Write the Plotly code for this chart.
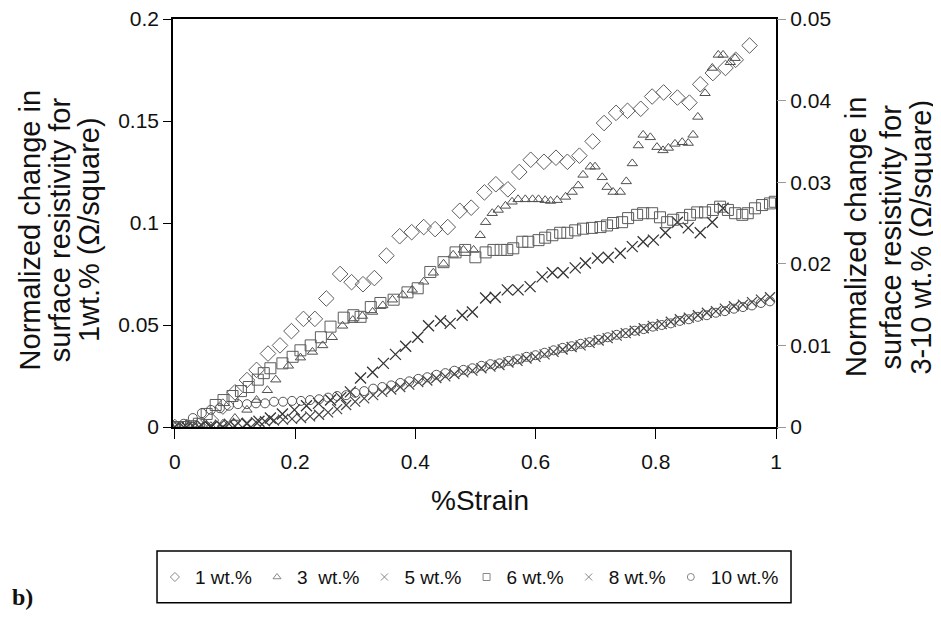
import plotly.graph_objects as go

# ---------------- data ----------------
strain_1 = [0.00, 0.02, 0.04, 0.06, 0.08, 0.10, 0.12, 0.136, 0.155, 0.175, 0.194, 0.214, 0.233, 0.252,
            0.275, 0.294, 0.313, 0.332, 0.352, 0.374, 0.394, 0.414, 0.433, 0.454, 0.474, 0.493, 0.515,
            0.534, 0.554, 0.573, 0.592, 0.614, 0.634, 0.653, 0.673, 0.695, 0.714, 0.734, 0.753, 0.775,
            0.794, 0.813, 0.836, 0.856, 0.874, 0.895, 0.916, 0.933, 0.956]
res_1 = [0.000, 0.000, 0.0005, 0.0034, 0.010, 0.017, 0.023, 0.028, 0.036, 0.040, 0.047, 0.053, 0.053, 0.063,
         0.075, 0.071, 0.070, 0.073, 0.084, 0.0935, 0.0955, 0.098, 0.097, 0.098, 0.106, 0.1075, 0.115,
         0.119, 0.1165, 0.125, 0.131, 0.130, 0.132, 0.130, 0.133, 0.140, 0.149, 0.154, 0.155, 0.156,
         0.162, 0.164, 0.1615, 0.159, 0.168, 0.1735, 0.176, 0.180, 0.187]

strain_3 = [0.000, 0.020, 0.040, 0.060, 0.080, 0.100, 0.120, 0.136, 0.154, 0.168, 0.189, 0.209, 0.229, 0.246,
            0.262, 0.279, 0.296, 0.312, 0.329, 0.346, 0.362, 0.379, 0.395, 0.414, 0.430, 0.447, 0.463,
            0.480, 0.497, 0.508, 0.517, 0.528, 0.538, 0.550, 0.561, 0.571, 0.583, 0.595, 0.605, 0.616,
            0.625, 0.636, 0.650, 0.661, 0.671, 0.679, 0.691, 0.699, 0.711, 0.719, 0.729, 0.741, 0.751,
            0.761, 0.771, 0.779, 0.791, 0.802, 0.812, 0.821, 0.832, 0.844, 0.854, 0.862, 0.870, 0.882,
            0.894, 0.904, 0.912, 0.924, 0.932]
res_3 = [0.0000, 0.0000, 0.0000, 0.0001, 0.0004, 0.0011, 0.0021, 0.0033, 0.0045, 0.0058, 0.0075, 0.0085,
         0.0092, 0.0100, 0.0110, 0.0124, 0.0131, 0.0136, 0.0141, 0.0149, 0.0156, 0.0162, 0.0168, 0.0178,
         0.0189, 0.0200, 0.0211, 0.0217, 0.0217, 0.0235, 0.0251, 0.0262, 0.0266, 0.0271, 0.0276, 0.0279,
         0.0279, 0.0279, 0.0279, 0.0278, 0.0277, 0.0278, 0.0282, 0.0288, 0.0296, 0.0309, 0.0319, 0.0319,
         0.0306, 0.0294, 0.0288, 0.0288, 0.0301, 0.0323, 0.0345, 0.0358, 0.0355, 0.0343, 0.0339, 0.0342,
         0.0347, 0.0349, 0.0348, 0.0358, 0.0380, 0.0409, 0.0440, 0.0456, 0.0456, 0.0447, 0.0452]

strain_5 = [0.000, 0.020, 0.040, 0.060, 0.080, 0.100, 0.120, 0.140, 0.159, 0.179, 0.199, 0.219, 0.239,
            0.259, 0.276, 0.292, 0.309, 0.329, 0.347, 0.367, 0.384, 0.404, 0.422, 0.442, 0.458, 0.478,
            0.495, 0.517, 0.533, 0.553, 0.571, 0.591, 0.611, 0.628, 0.646, 0.666, 0.683, 0.703, 0.721,
            0.741, 0.761, 0.779, 0.796, 0.816, 0.836, 0.854, 0.874, 0.894, 0.912]
res_5 = [0.0000, 0.0000, 0.0000, 0.0000, 0.0000, 0.0001, 0.0004, 0.0007, 0.0011, 0.0016, 0.0021, 0.0026,
         0.0029, 0.0033, 0.0036, 0.0043, 0.0060, 0.0067, 0.0078, 0.0089, 0.0099, 0.0110, 0.0124, 0.0130,
         0.0127, 0.0137, 0.0141, 0.0158, 0.0159, 0.0168, 0.0168, 0.0172, 0.0184, 0.0189, 0.0189, 0.0195,
         0.0201, 0.0207, 0.0208, 0.0213, 0.0221, 0.0227, 0.0229, 0.0238, 0.0251, 0.0244, 0.0238, 0.0251,
         0.0268]

strain_6 = [0.000, 0.013, 0.027, 0.040, 0.053, 0.068, 0.081, 0.096, 0.110, 0.123, 0.138, 0.148, 0.159,
            0.179, 0.196, 0.209, 0.226, 0.243, 0.259, 0.281, 0.297, 0.309, 0.326, 0.342, 0.364, 0.387,
            0.404, 0.425, 0.447, 0.467, 0.483, 0.500, 0.517, 0.530, 0.542, 0.553, 0.563, 0.578, 0.588,
            0.605, 0.616, 0.628, 0.641, 0.653, 0.666, 0.679, 0.694, 0.708, 0.719, 0.729, 0.744, 0.754,
            0.769, 0.779, 0.794, 0.807, 0.819, 0.829, 0.844, 0.857, 0.869, 0.882, 0.895, 0.907, 0.920,
            0.932, 0.944, 0.953, 0.965, 0.977, 0.990, 0.998]
res_6 = [0.0000, 0.0000, 0.0001, 0.0004, 0.0016, 0.0027, 0.0033, 0.0038, 0.0044, 0.0049, 0.0058, 0.0066,
         0.0072, 0.0078, 0.0086, 0.0094, 0.0100, 0.0110, 0.0123, 0.0134, 0.0137, 0.0135, 0.0147, 0.0152,
         0.0156, 0.0165, 0.0170, 0.0190, 0.0202, 0.0214, 0.0217, 0.0208, 0.0214, 0.0217, 0.0217, 0.0217,
         0.0219, 0.0227, 0.0227, 0.0229, 0.0232, 0.0235, 0.0238, 0.0238, 0.0241, 0.0243, 0.0244, 0.0245,
         0.0247, 0.0250, 0.0251, 0.0256, 0.0260, 0.0262, 0.0262, 0.0257, 0.0251, 0.0254, 0.0256, 0.0260,
         0.0263, 0.0263, 0.0266, 0.0270, 0.0266, 0.0262, 0.0260, 0.0262, 0.0268, 0.0272, 0.0274, 0.0276]

strain_8_10 = [0.000, 0.015, 0.030, 0.045, 0.060, 0.075, 0.090, 0.105, 0.120, 0.135, 0.150, 0.165, 0.180,
               0.195, 0.210, 0.225, 0.240, 0.255, 0.270, 0.285, 0.300, 0.315, 0.330, 0.345, 0.360, 0.375,
               0.390, 0.405, 0.420, 0.435, 0.450, 0.465, 0.480, 0.495, 0.510, 0.525, 0.540, 0.555, 0.570,
               0.585, 0.600, 0.615, 0.630, 0.645, 0.660, 0.675, 0.690, 0.705, 0.720, 0.735, 0.750, 0.765,
               0.780, 0.795, 0.810, 0.825, 0.840, 0.855, 0.870, 0.885, 0.900, 0.915, 0.930, 0.945, 0.960,
               0.975, 0.990]
res_8 = [0.0000, 0.0000, 0.0001, 0.0002, 0.0002, 0.0003, 0.0004, 0.0005, 0.0005, 0.0006, 0.0007, 0.0008,
         0.0009, 0.0010, 0.0011, 0.0013, 0.0015, 0.0018, 0.0022, 0.0027, 0.0031, 0.0035, 0.0039, 0.0043,
         0.0046, 0.0049, 0.0052, 0.0055, 0.0057, 0.0060, 0.0062, 0.0065, 0.0067, 0.0069, 0.0072, 0.0074,
         0.0076, 0.0079, 0.0081, 0.0084, 0.0086, 0.0089, 0.0092, 0.0095, 0.0098, 0.0100, 0.0103, 0.0106,
         0.0109, 0.0112, 0.0115, 0.0118, 0.0121, 0.0124, 0.0126, 0.0129, 0.0132, 0.0134, 0.0137, 0.0140,
         0.0142, 0.0145, 0.0148, 0.0150, 0.0153, 0.0156, 0.0159]
res_10 = [0.0000, 0.0004, 0.0011, 0.0017, 0.0021, 0.0023, 0.0026, 0.0028, 0.0028, 0.0029, 0.0029, 0.0031,
          0.0031, 0.0032, 0.0032, 0.0033, 0.0034, 0.0036, 0.0038, 0.0039, 0.0042, 0.0044, 0.0047, 0.0049,
          0.0051, 0.0054, 0.0056, 0.0059, 0.0061, 0.0064, 0.0066, 0.0069, 0.0070, 0.0072, 0.0075, 0.0077,
          0.0078, 0.0081, 0.0083, 0.0086, 0.0088, 0.0091, 0.0094, 0.0097, 0.0099, 0.0102, 0.0104, 0.0107,
          0.0110, 0.0113, 0.0115, 0.0118, 0.0120, 0.0123, 0.0125, 0.0127, 0.0130, 0.0132, 0.0135, 0.0137,
          0.0140, 0.0142, 0.0145, 0.0147, 0.0149, 0.0152, 0.0154]

legend_labels = ["1 wt.%", "3  wt.%", "5 wt.%", "6 wt.%", "8 wt.%", "10 wt.%"]
x_ticks = [0, 0.2, 0.4, 0.6, 0.8, 1]
y1_ticks = [0, 0.05, 0.1, 0.15, 0.2]
y2_ticks = [0, 0.01, 0.02, 0.03, 0.04, 0.05]
left_title = ["Normalized change in", "surface resistivity for", "1wt.% (Ω/square)"]
right_title = ["Normalized change in", "surface resistivity for", "3-10 wt.% (Ω/square)"]

FONT = "Liberation Sans, Arial, sans-serif"
TXT = "#111111"

fig = go.Figure()

series = [
    (strain_1, res_1, "y", dict(symbol="diamond-open", size=12, color="#5c5c5c", line=dict(width=1))),
    (strain_3, res_3, "y2", dict(symbol="triangle-up-open", size=9, color="#505050", line=dict(width=1))),
    (strain_5, res_5, "y2", dict(symbol="x-thin-open", size=11, color="#333333", line=dict(width=1.3))),
    (strain_6, res_6, "y2", dict(symbol="square-open", size=11, color="#5c5c5c", line=dict(width=1))),
    (strain_8_10, res_8, "y2", dict(symbol="x-thin-open", size=10, color="#444444", line=dict(width=1.2))),
    (strain_8_10, res_10, "y2", dict(symbol="circle-open", size=9, color="#555555", line=dict(width=1))),
]
for (xs, ys, ax, mk), name in zip(series, legend_labels):
    fig.add_trace(go.Scatter(x=xs, y=ys, yaxis=ax, mode="markers", marker=mk,
                             name=name, showlegend=False))

# legend entries with small symbols, as in the original
leg_syms = ["diamond-open", "triangle-up-open", "x-thin-open", "square-open", "x-thin-open", "circle-open"]
for s, name in zip(leg_syms, legend_labels):
    fig.add_trace(go.Scatter(x=[None], y=[None], mode="markers", name=name,
                             marker=dict(symbol=s, size=7, color="#888888", line=dict(width=1))))

fig.update_layout(
    width=933, height=610,
    margin=dict(l=165, r=165, t=11, b=191),
    paper_bgcolor="white", plot_bgcolor="white",
    showlegend=True,
    legend=dict(orientation="h", x=-0.030, y=-0.368, xanchor="left", yanchor="middle",
                bgcolor="rgba(0,0,0,0)", borderwidth=0,
                font=dict(family=FONT, size=19, color=TXT),
                itemwidth=30, tracegroupgap=0),
    xaxis=dict(range=[-0.003, 1.0], tickvals=x_ticks, ticktext=["0", "0.2", "0.4", "0.6", "0.8", "1"],
               ticks="outside", ticklen=10, tickwidth=1.2, tickcolor="black",
               showline=True, linecolor="black", linewidth=1.5, mirror=True,
               showgrid=False, zeroline=False, automargin=False, ticklabelstandoff=5,
               ticklabeloverflow="allow",
               tickfont=dict(family=FONT, size=21, color=TXT)),
    yaxis=dict(range=[0, 0.2], tickvals=y1_ticks, ticktext=["0", "0.05", "0.1", "0.15", "0.2"],
               ticks="outside", ticklen=8, tickwidth=1.2, tickcolor="black",
               showline=True, linecolor="black", linewidth=1.5, mirror=True,
               showgrid=False, zeroline=False, automargin=False, ticklabeloverflow="allow",
               tickfont=dict(family=FONT, size=21, color=TXT)),
    yaxis2=dict(range=[0, 0.05], tickvals=y2_ticks, ticktext=["0", "0.01", "0.02", "0.03", "0.04", "0.05"],
                overlaying="y", side="right", anchor="x",
                ticks="outside", ticklen=9, tickwidth=1.2, tickcolor="#999999",
                showline=False, showgrid=False, zeroline=False, automargin=False,
                ticklabeloverflow="allow",
                tickfont=dict(family=FONT, size=21, color=TXT)),
)

# legend frame
fig.add_shape(type="rect", xref="paper", yref="paper", x0=-0.0265, x1=1.0249, y0=-0.304, y1=-0.431,
              line=dict(color="black", width=1.5), fillcolor="rgba(0,0,0,0)", layer="below")

for line, xp in zip(left_title, [-0.238, -0.187, -0.139]):
    fig.add_annotation(text=line, xref="paper", yref="paper", x=xp, y=0.483, textangle=-90,
                       xanchor="center", yanchor="middle", showarrow=False,
                       font=dict(family=FONT, size=29, color=TXT))
for line, xp in zip(right_title, [1.133, 1.190, 1.240]):
    fig.add_annotation(text=line, xref="paper", yref="paper", x=xp, y=0.466, textangle=-90,
                       xanchor="center", yanchor="middle", showarrow=False,
                       font=dict(family=FONT, size=29, color=TXT))
fig.add_annotation(text="%Strain", xref="paper", yref="paper", x=0.509, y=-0.179,
                   xanchor="center", yanchor="middle", showarrow=False,
                   font=dict(family=FONT, size=28, color=TXT))
fig.add_annotation(text="<b>b)</b>", xref="paper", yref="paper", x=-0.250, y=-0.4167,
                   xanchor="center", yanchor="middle", showarrow=False,
                   font=dict(family="Liberation Serif, Times New Roman, serif", size=24, color=TXT))

fig.write_html("out.html")
